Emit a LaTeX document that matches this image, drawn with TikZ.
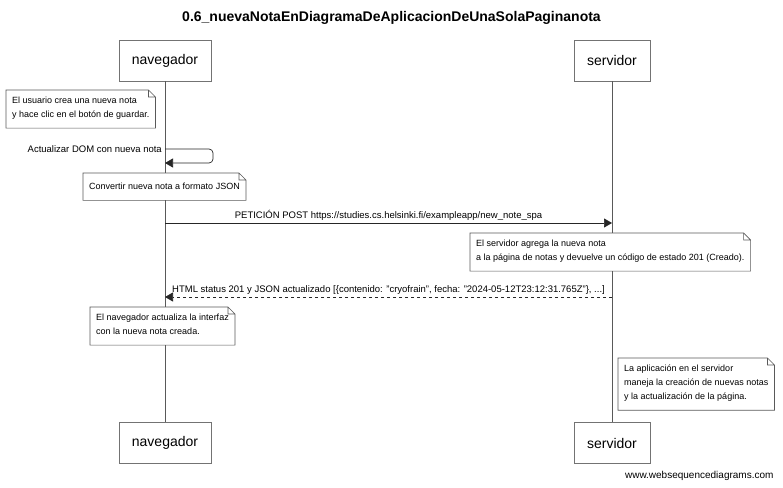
\documentclass[tikz,border=0pt]{standalone}
\usepackage{fontspec}
\setmainfont{Liberation Sans}
\usetikzlibrary{arrows.meta, positioning}

\begin{document}
\begin{tikzpicture}[x=1pt, y=-1pt, font=\fontsize{9}{14}\selectfont,
    actor/.style={draw=black!55, fill=white, font=\fontsize{14}{16}\selectfont, minimum height=41pt, inner xsep=13pt},
    lifeline/.style={draw=black!65, line width=0.7pt},
    note/.style={fill=white, align=left, inner xsep=6pt, inner ysep=6.5pt, anchor=north west,
        execute at begin node=\strut, execute at end node=\strut},
    fold/.style={draw=black!65, line width=0.6pt},
    msg/.style={-{Triangle[length=8pt, width=9pt]}, draw=black!85, line width=0.7pt},
    lbl/.style={font=\fontsize{9.5}{12}\selectfont, inner sep=2pt}]
    \useasboundingbox (0,0) rectangle (783,487);

    \node[font=\bfseries\fontsize{14}{17}\selectfont] (titulo) at (391.5,18)
        {0.6\_nuevaNotaEnDiagramaDeAplicacionDeUnaSolaPaginanota};

    \node[actor] (nav1) at (165,60.5) {navegador};
    \node[actor] (serv1) at (612,60.5) {servidor};
    \node[actor] (nav2) at (165,443) {navegador};
    \node[actor] (serv2) at (612,443) {servidor};
    \draw[lifeline] (nav1) -- (nav2);
    \draw[lifeline] (serv1) -- (serv2);

    \node[note] (nota1) at (6,90) {El usuario crea una nueva nota\\y hace clic en el botón de guardar.};

    % auto-mensaje
    \coordinate (dom1) at (165,149);
    \coordinate (dom2) at (165,163);
    \draw[msg, rounded corners=4pt] (dom1) -- ++(48,0) |- (dom2);
    \node[lbl, anchor=east] (lbldom) at ([xshift=-1pt]dom1) {Actualizar DOM con nueva nota};

    \node[note] (nota2) at (83,173) {Convertir nueva nota a formato JSON};

    \coordinate (post1) at (165,223);
    \coordinate (post2) at (612,223);
    \draw[msg] (post1) -- node[lbl, above] (lblpost)
        {PETICIÓN POST https://studies.cs.helsinki.fi/exampleapp/new\_note\_spa} (post2);

    \node[note] (nota3) at (470,233) {El servidor agrega la nueva nota\\a la página de notas y devuelve un código de estado 201 (Creado).};

    \coordinate (ret1) at (612,297);
    \coordinate (ret2) at (165,297);
    \draw[msg, dashed] (ret1) -- node[lbl, above] (lblret)
        {HTML status 201 y JSON actualizado [\{contenido: "cryofrain", fecha: "2024-05-12T23:12:31.765Z"\}, ...]} (ret2);

    \node[note] (nota4) at (90,307) {El navegador actualiza la interfaz\\con la nueva nota creada.};
    \node[note] (nota5) at (618,358) {La aplicación en el servidor\\maneja la creación de nuevas notas\\y la actualización de la página.};

    % esquinas dobladas
    \foreach \n in {nota1, nota2, nota3, nota4, nota5}
        \draw[fold] (\n.north west) -- ([xshift=-7pt]\n.north east) -- ([yshift=-7pt]\n.north east)
            -- (\n.south east) -- (\n.south west) -- cycle
            ([xshift=-7pt]\n.north east) |- ([yshift=-7pt]\n.north east);

    \node[anchor=south east, font=\fontsize{10}{12}\selectfont] (web) at (777,484) {www.websequencediagrams.com};
\end{tikzpicture}
\end{document}
